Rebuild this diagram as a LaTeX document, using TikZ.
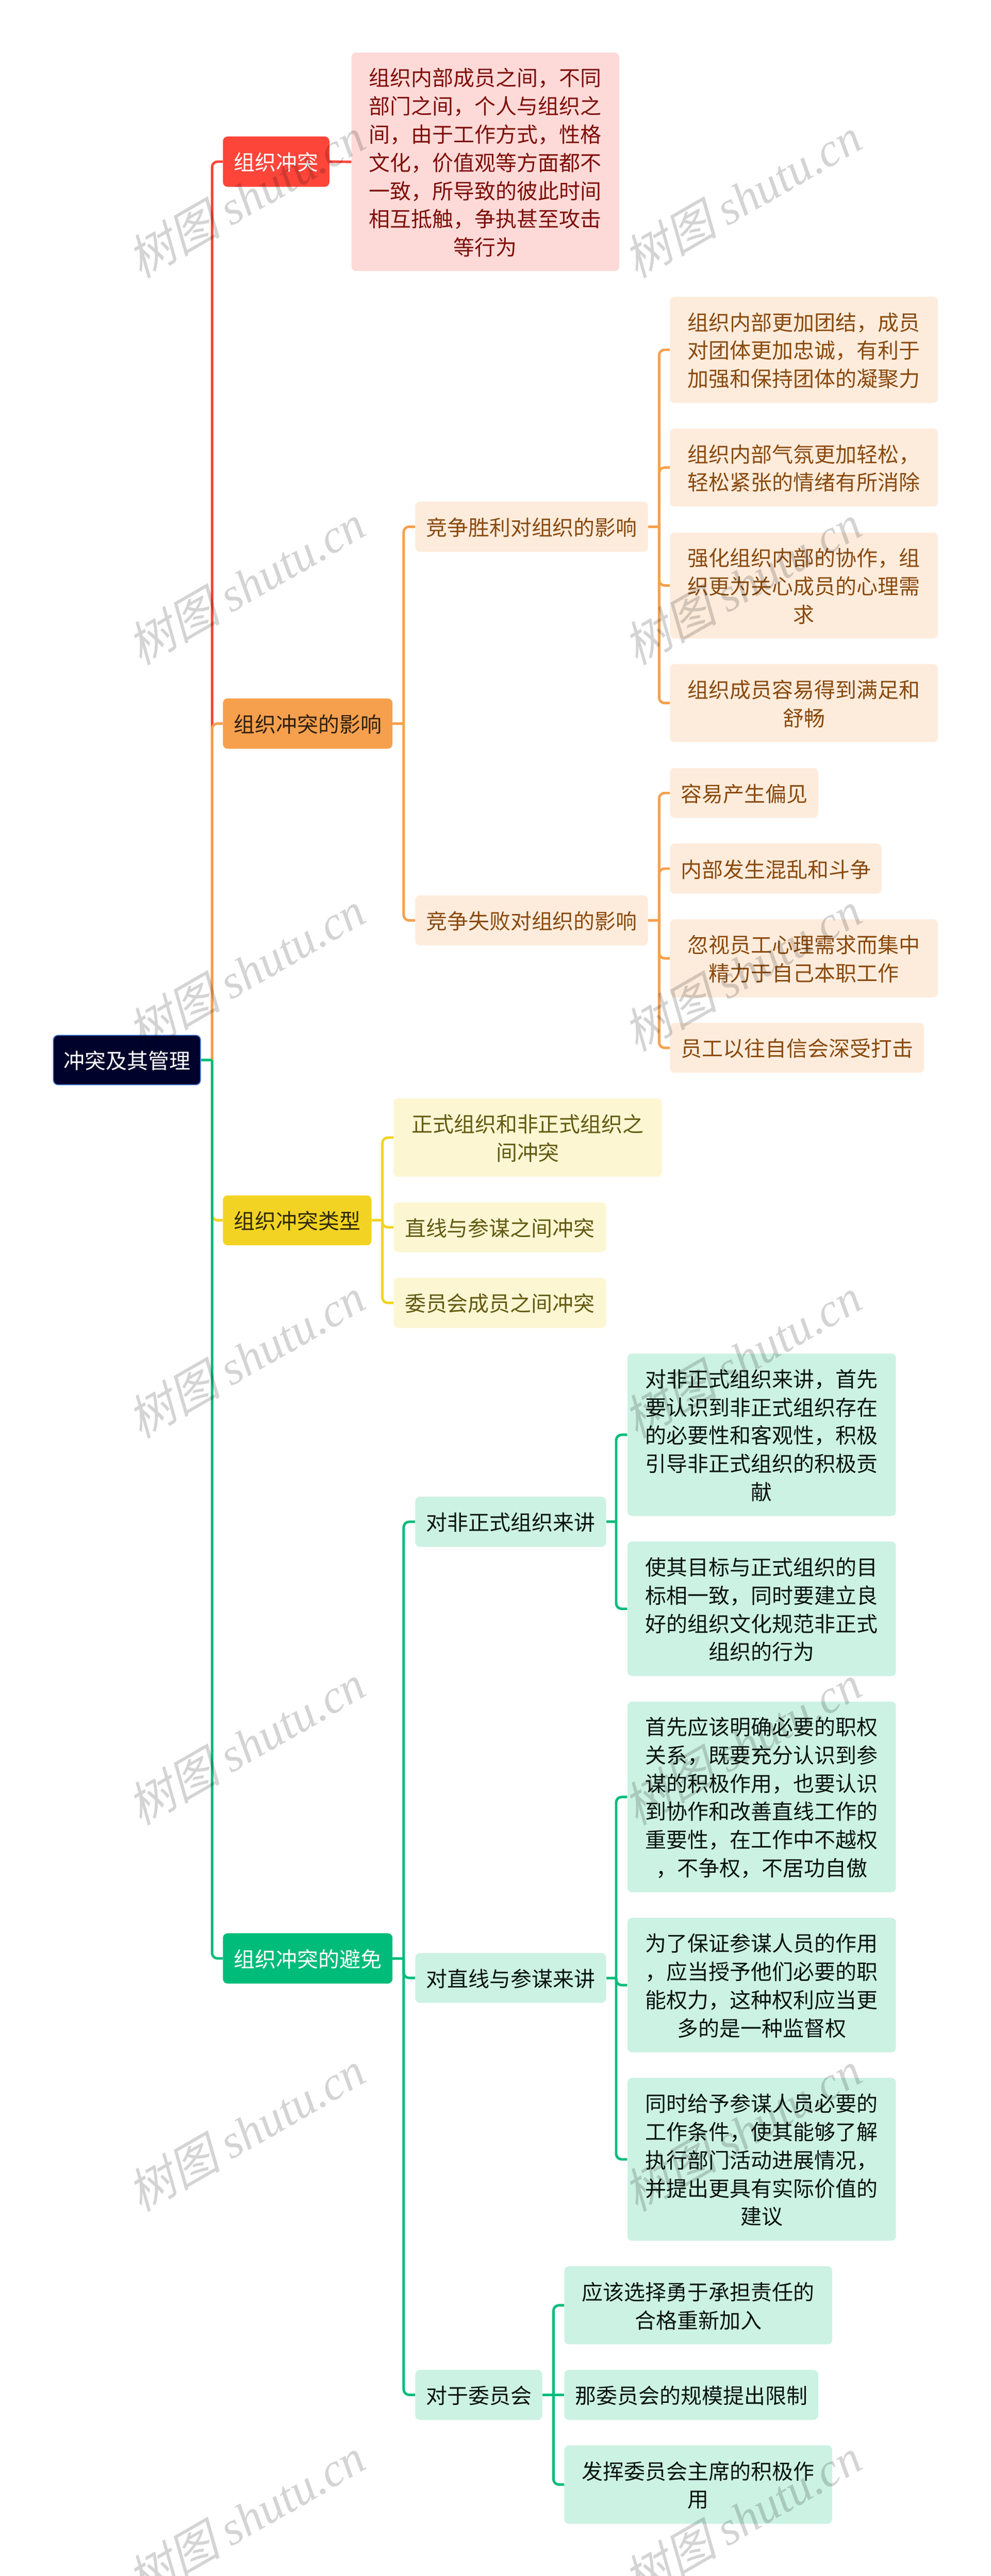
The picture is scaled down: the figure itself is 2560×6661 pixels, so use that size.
\documentclass[tikz,border=0pt]{standalone}
\usepackage{fontspec}
\setmainfont{Noto Sans CJK SC}
\newfontfamily\wmcjk{Noto Sans CJK SC}[FakeSlant=0.25]
\newfontfamily\wmlat{Liberation Serif}[Scale=1.0]
\definecolor{cA}{HTML}{FD453A}
\definecolor{cB}{HTML}{F6A04D}
\definecolor{cC}{HTML}{F2D323}
\definecolor{cD}{HTML}{00BC7B}
\definecolor{pA}{HTML}{FDDAD8}
\definecolor{pB}{HTML}{FDECDC}
\definecolor{pC}{HTML}{FCF6D3}
\definecolor{pD}{HTML}{CCF2E4}
\definecolor{tA}{HTML}{7F0E08}
\definecolor{tB}{HTML}{8A4A0E}
\definecolor{tC}{HTML}{635A10}
\definecolor{tD}{HTML}{0A1410}
\definecolor{rootfill}{HTML}{00022B}
\definecolor{rootline}{HTML}{3A70D8}
\tikzset{
  basebox/.style={rectangle,rounded corners=6pt,inner sep=0pt,align=center,
    font=\fontsize{27.3pt}{36.5pt}\selectfont},
  rootbox/.style={basebox,fill=rootfill,draw=rootline,line width=1.2pt,text=white},
  headA/.style={basebox,fill=cA,text=white},
  headB/.style={basebox,fill=cB,text=black!80!cB},
  headC/.style={basebox,fill=cC,text=black!80!cC},
  headD/.style={basebox,fill=cD,text=white},
  paleA/.style={basebox,fill=pA,text=tA},
  paleB/.style={basebox,fill=pB,text=tB},
  paleC/.style={basebox,fill=pC,text=tC},
  paleD/.style={basebox,fill=pD,text=tD},
  lnk/.style={draw=#1,line width=3.25pt,line join=round},
  bend/.style={lnk=#1,rounded corners=7pt},
  wm/.style={rotate=30,text=black,text opacity=0.17,inner sep=0pt,
    font=\fontsize{61pt}{61pt}\selectfont}
}
\newcommand{\mmbox}[7]{%
  \node[#2,minimum width={(#5-#3)*0.5pt},minimum height={(#6-#4)*0.5pt}]
    (#1) at ({(#3+#5)/2},{(#4+#6)/2}) {\rule{0pt}{25pt}#7};}
\newcommand{\fork}[3]{\draw[bend=#1] (#2.east -| #2t) -- (#2t |- #3.west) -- (#3.west);}
\newcommand{\stub}[2]{\draw[lnk=#1] (#2.east) -- (#2.east -| #2t);}
\begin{document}
\begin{tikzpicture}[x=0.5pt,y=-0.5pt]
\useasboundingbox (0,0) rectangle (2560,6661);
\fill[white] (0,0) rectangle (2560,6661);

\mmbox{root}{rootbox}{138}{2677}{518}{2805}{冲突及其管理}

\mmbox{A}{headA}{576}{353}{851}{483}{组织冲突}
\mmbox{Aa}{paleA}{908}{136}{1600}{701}{组织内部成员之间，不同\\部门之间，个人与组织之\\间，由于工作方式，性格\\文化，价值观等方面都不\\一致，所导致的彼此时间\\相互抵触，争执甚至攻击\\等行为}

\mmbox{B}{headB}{576}{1806}{1014}{1936}{组织冲突的影响}
\mmbox{Ba}{paleB}{1073}{1297}{1674}{1427}{竞争胜利对组织的影响}
\mmbox{Baa}{paleB}{1731}{767}{2423}{1042}{组织内部更加团结，成员\\对团体更加忠诚，有利于\\加强和保持团体的凝聚力}
\mmbox{Bab}{paleB}{1731}{1108}{2423}{1310}{组织内部气氛更加轻松，\\轻松紧张的情绪有所消除}
\mmbox{Bac}{paleB}{1731}{1377}{2423}{1651}{强化组织内部的协作，组\\织更为关心成员的心理需\\求}
\mmbox{Bad}{paleB}{1731}{1717}{2423}{1919}{组织成员容易得到满足和\\舒畅}
\mmbox{Bb}{paleB}{1073}{2315}{1674}{2445}{竞争失败对组织的影响}
\mmbox{Bba}{paleB}{1731}{1986}{2114}{2115}{容易产生偏见}
\mmbox{Bbb}{paleB}{1731}{2181}{2278}{2311}{内部发生混乱和斗争}
\mmbox{Bbc}{paleB}{1731}{2377}{2423}{2579}{忽视员工心理需求而集中\\精力于自己本职工作}
\mmbox{Bbd}{paleB}{1731}{2645}{2387}{2774}{员工以往自信会深受打击}

\mmbox{C}{headC}{576}{3091}{960}{3220}{组织冲突类型}
\mmbox{Ca}{paleC}{1017}{2840}{1710}{3043}{正式组织和非正式组织之\\间冲突}
\mmbox{Cb}{paleC}{1017}{3109}{1566}{3238}{直线与参谋之间冲突}
\mmbox{Cc}{paleC}{1017}{3304}{1566}{3434}{委员会成员之间冲突}

\mmbox{D}{headD}{576}{4999}{1014}{5129}{组织冲突的避免}
\mmbox{Da}{paleD}{1073}{3870}{1566}{4000}{对非正式组织来讲}
\mmbox{Daa}{paleD}{1621}{3500}{2315}{3920}{对非正式组织来讲，首先\\要认识到非正式组织存在\\的必要性和客观性，积极\\引导非正式组织的积极贡\\献}
\mmbox{Dab}{paleD}{1621}{3986}{2315}{4334}{使其目标与正式组织的目\\标相一致，同时要建立良\\好的组织文化规范非正式\\组织的行为}
\mmbox{Db}{paleD}{1073}{5050}{1566}{5179}{对直线与参谋来讲}
\mmbox{Dba}{paleD}{1621}{4400}{2315}{4893}{首先应该明确必要的职权\\关系，既要充分认识到参\\谋的积极作用，也要认识\\到协作和改善直线工作的\\重要性，在工作中不越权\\，不争权，不居功自傲}
\mmbox{Dbb}{paleD}{1621}{4959}{2315}{5307}{为了保证参谋人员的作用\\，应当授予他们必要的职\\能权力，这种权利应当更\\多的是一种监督权}
\mmbox{Dbc}{paleD}{1621}{5373}{2315}{5794}{同时给予参谋人员必要的\\工作条件，使其能够了解\\执行部门活动进展情况，\\并提出更具有实际价值的\\建议}
\mmbox{Dc}{paleD}{1073}{6128}{1401}{6257}{对于委员会}
\mmbox{Dca}{paleD}{1458}{5860}{2150}{6062}{应该选择勇于承担责任的\\合格重新加入}
\mmbox{Dcb}{paleD}{1458}{6128}{2114}{6257}{那委员会的规模提出限制}
\mmbox{Dcc}{paleD}{1458}{6323}{2150}{6526}{发挥委员会主席的积极作\\用}

\coordinate (roott) at (548,0);
\coordinate (Bt) at (1043,0);
\coordinate (Bat) at (1703,0);
\coordinate (Bbt) at (1703,0);
\coordinate (Ct) at (988,0);
\coordinate (Dt) at (1043,0);
\coordinate (Dat) at (1592,0);
\coordinate (Dbt) at (1592,0);
\coordinate (Dct) at (1430,0);

\fork{cA}{root}{A}
\fork{cB}{root}{B}
\fork{cC}{root}{C}
\fork{cD}{root}{D}
\stub{cD}{root}

\draw[lnk=cA] (A.east) -- (Aa.west);

\fork{cB}{B}{Ba}
\fork{cB}{B}{Bb}
\stub{cB}{B}
\fork{cB}{Ba}{Baa}
\fork{cB}{Ba}{Bab}
\fork{cB}{Ba}{Bac}
\fork{cB}{Ba}{Bad}
\stub{cB}{Ba}
\fork{cB}{Bb}{Bba}
\fork{cB}{Bb}{Bbb}
\fork{cB}{Bb}{Bbc}
\fork{cB}{Bb}{Bbd}
\stub{cB}{Bb}

\fork{cC}{C}{Ca}
\fork{cC}{C}{Cb}
\fork{cC}{C}{Cc}
\stub{cC}{C}

\fork{cD}{D}{Da}
\fork{cD}{D}{Db}
\fork{cD}{D}{Dc}
\stub{cD}{D}
\fork{cD}{Da}{Daa}
\fork{cD}{Da}{Dab}
\stub{cD}{Da}
\fork{cD}{Db}{Dba}
\fork{cD}{Db}{Dbb}
\fork{cD}{Db}{Dbc}
\stub{cD}{Db}
\fork{cD}{Dc}{Dca}
\fork{cD}{Dc}{Dcc}
\draw[lnk=cD] (Dc.east) -- (Dcb.west);

\foreach \k in {0,...,6}{
  \node[wm] (wml\k) at (635,{511+1000*\k}) {{\wmcjk 树图} {\wmlat\itshape shutu.cn}};
  \node[wm] (wmr\k) at (1917,{511+1000*\k}) {{\wmcjk 树图} {\wmlat\itshape shutu.cn}};
}
\end{tikzpicture}
\end{document}
